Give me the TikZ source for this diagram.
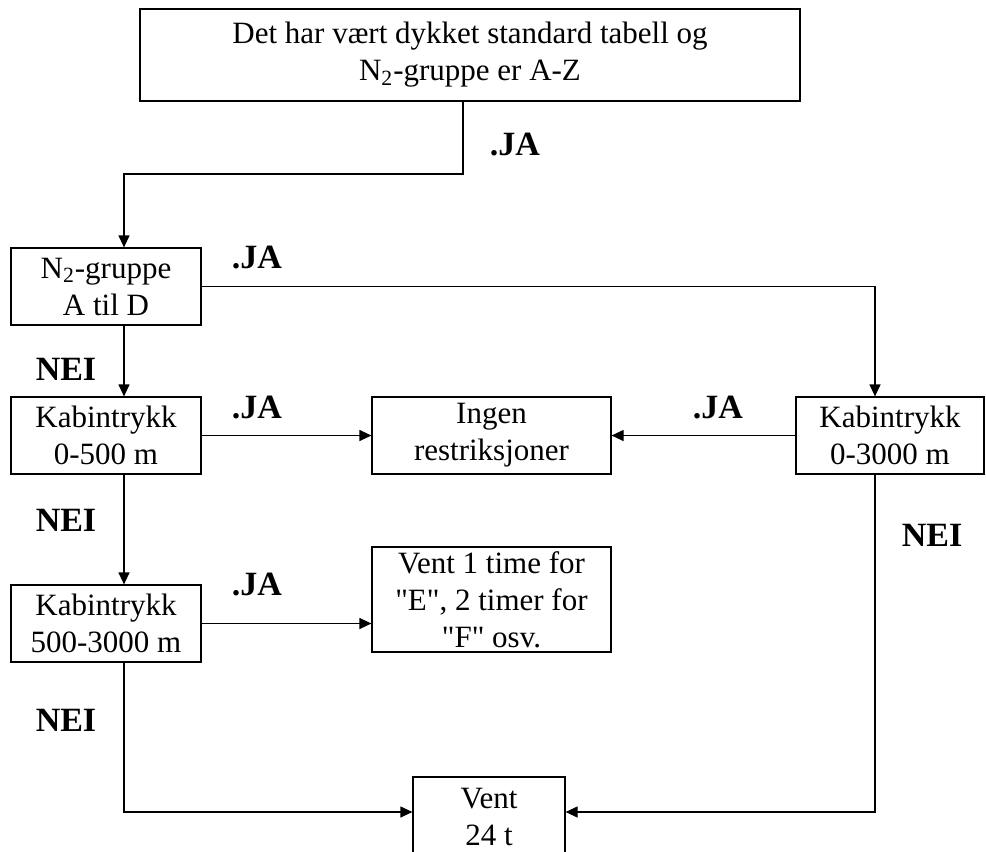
\documentclass[tikz,border=0pt]{standalone}
\usepackage{fontspec}
\setmainfont{Liberation Serif}
\usetikzlibrary{arrows.meta}
\tikzstyle{box}=[draw, rectangle, align=center, inner sep=0pt, font=\fontsize{15.5}{18.5}\selectfont]
\tikzstyle{answer}=[inner sep=0pt, font=\fontsize{17}{20}\selectfont\bfseries]

\begin{document}
\begin{tikzpicture}[x=0.5pt, y=-0.5pt, line width=0.6pt, >={Triangle[length=6pt,width=5.5pt]}]
        \useasboundingbox (0,0) rectangle (986,852);
        \clip (0,0) rectangle (986,852);
        % boxes
        \node[box, minimum width=330pt, minimum height=46pt] (start) at (470,55) {Det har vært dykket standard tabell og\\N\textsubscript{2}-gruppe er A-Z};
        \node[box, minimum width=95pt, minimum height=38.5pt] (n2) at (106,286.5) {N\textsubscript{2}-gruppe\\A til D};
        \node[box, minimum width=95pt, minimum height=38.5pt] (kab500) at (106,435.5) {Kabintrykk\\0-500 m};
        \node[box, minimum width=119.5pt, minimum height=38.5pt] (ingen) at (491.5,435.5) {Ingen\\restriksjoner};
        \node[box, minimum width=94pt, minimum height=38.5pt] (kab3000) at (890,435.5) {Kabintrykk\\0-3000 m};
        \node[box, minimum width=95pt, minimum height=38.5pt] (kab53) at (106,623.5) {Kabintrykk\\500-3000 m};
        \node[box, minimum width=119.5pt, minimum height=52.5pt] (vent1) at (491.5,599.5) {Vent 1 time for\\\textquotedbl E\textquotedbl, 2 timer for\\\textquotedbl F\textquotedbl{} osv.};
        \node[box, minimum width=76pt, minimum height=40pt] (vent24) at (489,817) {Vent\\24 t};
        % bends
        \coordinate (xl) at (124,0);
        \coordinate (xr) at (875,0);
        \coordinate (bend) at (463,174);
        \coordinate (yb) at (0,812);
        % connectors
        \draw[->] (start.south -| bend) -- (bend) -| (n2.north -| xl);
        \draw[->] (n2.east) -| (kab3000.north -| xr);
        \draw[->] (n2.south -| xl) -- (kab500.north -| xl);
        \draw[->] (kab500.east) -- (ingen.west);
        \draw[->] (kab3000.west) -- (ingen.east);
        \draw[->] (kab500.south -| xl) -- (kab53.north -| xl);
        \draw[->] (kab53.east) -- (kab53.east -| vent1.west);
        \draw[->] (kab53.south -| xl) |- (vent24.west |- yb);
        \draw[->] (kab3000.south -| xr) |- (vent24.east |- yb);
        % answers
        \node[answer] (ja1) at (515,145) {.JA};
        \node[answer] (ja2) at (257,258) {.JA};
        \node[answer] (nei1) at (66,369) {NEI};
        \node[answer] (ja3) at (257,408) {.JA};
        \node[answer] (ja4) at (718,408) {.JA};
        \node[answer] (nei2) at (66,520) {NEI};
        \node[answer] (ja5) at (257,585) {.JA};
        \node[answer] (nei3) at (66,720) {NEI};
        \node[answer] (nei4) at (932,535) {NEI};
\end{tikzpicture}
\end{document}
